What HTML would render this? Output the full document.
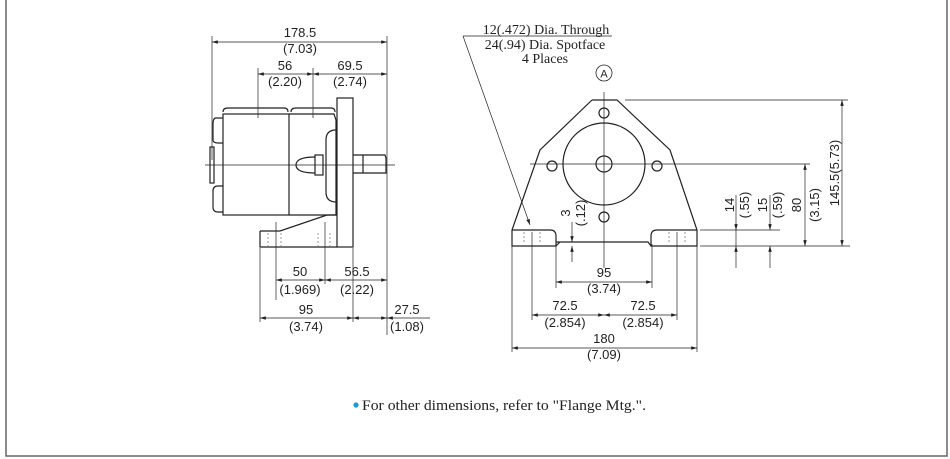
<!DOCTYPE html>
<html><head><meta charset="utf-8"><style>
body{margin:0;background:#fff;}
svg{display:block;}
.s{font-family:"Liberation Sans",sans-serif;font-size:13px;fill:#222;text-anchor:middle;}
.r{font-family:"Liberation Serif",serif;font-size:14px;fill:#222;text-anchor:middle;}
</style></head><body>
<svg width="950" height="459" viewBox="0 0 950 459" xmlns="http://www.w3.org/2000/svg">
<defs>
<marker id="a" viewBox="0 0 10 6" refX="10" refY="3" markerWidth="9" markerHeight="5" orient="auto-start-reverse"><path d="M0,0L10,3L0,6z" fill="#222"/></marker>
</defs>
<rect x="6" y="-2" width="941" height="458" fill="none" stroke="#666" stroke-width="1.5"/>
<g stroke="#222" fill="none" stroke-width="0.7">
<line x1="212" y1="36" x2="212" y2="160"/>
<line x1="387" y1="36" x2="387" y2="335"/>
<line x1="258" y1="68" x2="258" y2="118"/>
<line x1="313" y1="68" x2="313" y2="118"/>
<line x1="276" y1="222" x2="276" y2="300"/>
<line x1="325" y1="222" x2="325" y2="284"/>
<line x1="260" y1="248" x2="260" y2="322"/>
<line x1="353" y1="248" x2="353" y2="322"/>
<line x1="212" y1="42" x2="387" y2="42" marker-start="url(#a)" marker-end="url(#a)"/>
<line x1="258" y1="74" x2="313" y2="74" marker-start="url(#a)" marker-end="url(#a)"/>
<line x1="313" y1="74" x2="387" y2="74" marker-start="url(#a)" marker-end="url(#a)"/>
<line x1="276" y1="280" x2="325" y2="280" marker-start="url(#a)" marker-end="url(#a)"/>
<line x1="325" y1="280" x2="387" y2="280" marker-start="url(#a)" marker-end="url(#a)"/>
<line x1="260" y1="318" x2="353" y2="318" marker-start="url(#a)" marker-end="url(#a)"/>
<line x1="353" y1="318" x2="387" y2="318" marker-start="url(#a)" marker-end="url(#a)"/>
<line x1="430" y1="318" x2="387" y2="318" marker-end="url(#a)"/>
<line x1="205" y1="165" x2="395" y2="165"/>
</g>
<g stroke="#222" fill="none" stroke-width="1.2">
<path d="M223,112 Q223,108 228,108 L284,108 Q288,108 288,112 M291,112 Q291,108 296,108 L331,108 Q335,108 335,112"/>
<rect x="223" y="114" width="66" height="101"/>
<path d="M289,114 L334,114 L336,120 L336,215 L289,215"/>
<path d="M223,118 L216,118 Q213,118 213,124 L213,140 Q213,143 218,143 L223,143"/>
<path d="M223,186 L218,186 Q213,186 213,191 L213,207 Q213,212 218,212 L223,212"/>
<rect x="210" y="147" width="4" height="36"/>
<path d="M336,130 Q326,130 326,140 L326,192 Q326,202 336,202"/>
<rect x="315" y="155" width="8" height="20"/>
<path d="M315,157 Q296,157 296,165 Q296,173 315,173"/>
<rect x="337" y="98" width="16" height="149"/>
<path d="M260,231 L280,231 L327,215 L337,215 M260,231 L260,247 L337,247"/>
<path d="M353,155 L385,155 L386,158 L386,173 L353,173"/>
<line x1="363" y1="155" x2="363" y2="173"/>
</g>
<g stroke="#555" stroke-width="0.6" stroke-dasharray="2,2">
<line x1="268" y1="233" x2="268" y2="246"/><line x1="281" y1="233" x2="281" y2="246"/>
<line x1="318" y1="233" x2="318" y2="246"/><line x1="330" y1="233" x2="330" y2="246"/>
<line x1="258" y1="108" x2="258" y2="120"/><line x1="313" y1="108" x2="313" y2="120"/>
</g>
<g>
<text x="300" y="37" class="s">178.5</text><text x="300" y="53" class="s">(7.03)</text>
<text x="285" y="70" class="s">56</text><text x="285" y="86" class="s">(2.20)</text>
<text x="350" y="70" class="s">69.5</text><text x="350" y="86" class="s">(2.74)</text>
<text x="300" y="276" class="s">50</text><text x="300" y="294" class="s">(1.969)</text>
<text x="357" y="276" class="s">56.5</text><text x="357" y="294" class="s">(2.22)</text>
<text x="306" y="314" class="s">95</text><text x="306" y="331" class="s">(3.74)</text>
<text x="407" y="314" class="s">27.5</text><text x="407" y="331" class="s">(1.08)</text>
</g>
<g stroke="#222" fill="none" stroke-width="0.7">
<line x1="463" y1="36" x2="612" y2="36"/>
<line x1="463" y1="36" x2="530" y2="225" marker-end="url(#a)"/>
<line x1="604" y1="92" x2="604" y2="268"/>
<line x1="530" y1="164" x2="810" y2="164"/>
<line x1="625" y1="100" x2="848" y2="100"/>
<line x1="700" y1="246" x2="850" y2="246"/>
<line x1="700" y1="230" x2="780" y2="230"/>
<line x1="842" y1="100" x2="842" y2="246" marker-start="url(#a)" marker-end="url(#a)"/>
<line x1="805" y1="164" x2="805" y2="246" marker-start="url(#a)" marker-end="url(#a)"/>
<line x1="736" y1="195" x2="736" y2="230" marker-end="url(#a)"/>
<line x1="736" y1="268" x2="736" y2="246" marker-end="url(#a)"/>
<line x1="736" y1="230" x2="736" y2="246"/>
<line x1="770" y1="195" x2="770" y2="230" marker-end="url(#a)"/>
<line x1="770" y1="268" x2="770" y2="246" marker-end="url(#a)"/>
<line x1="570" y1="242" x2="578" y2="242"/>
<line x1="572" y1="222" x2="572" y2="242" marker-end="url(#a)"/>
<line x1="572" y1="262" x2="572" y2="246" marker-end="url(#a)"/>
<line x1="512" y1="246" x2="512" y2="352"/>
<line x1="697" y1="246" x2="697" y2="352"/>
<line x1="532" y1="232" x2="532" y2="320"/>
<line x1="677" y1="232" x2="677" y2="320"/>
<line x1="556" y1="244" x2="556" y2="288"/>
<line x1="652" y1="244" x2="652" y2="288"/>
<line x1="556" y1="282" x2="652" y2="282" marker-start="url(#a)" marker-end="url(#a)"/>
<line x1="532" y1="315" x2="604" y2="315" marker-start="url(#a)" marker-end="url(#a)"/>
<line x1="604" y1="315" x2="677" y2="315" marker-start="url(#a)" marker-end="url(#a)"/>
<line x1="512" y1="348" x2="697" y2="348" marker-start="url(#a)" marker-end="url(#a)"/>
</g>
<g stroke="#222" fill="none" stroke-width="1.2">
<path d="M592,100 L617,100 L670,150 L697,230 L697,246 L651,246 L651,236 Q651,230 657,230 L697,230"/>
<path d="M592,100 L540,150 L512,230 L512,246 L556,246 L556,236 Q556,230 550,230 L512,230"/>
<path d="M556,242 L560,242 L648,242 L651,246"/>
<path d="M556,246 L560,242"/>
<circle cx="604" cy="164" r="41"/>
<circle cx="604" cy="164" r="8"/>
<circle cx="604" cy="113" r="5"/>
<circle cx="552" cy="166" r="5"/>
<circle cx="657" cy="166" r="5"/>
<circle cx="604" cy="217" r="5"/>
<circle cx="604" cy="73" r="8" stroke-width="0.8"/>
</g>
<g stroke="#555" stroke-width="0.6" stroke-dasharray="2,2">
<line x1="524" y1="232" x2="524" y2="244"/><line x1="540" y1="232" x2="540" y2="244"/>
<line x1="669" y1="232" x2="669" y2="244"/><line x1="685" y1="232" x2="685" y2="244"/>
</g>
<text x="604" y="77.5" class="s" style="font-size:11px">A</text>
<text x="546" y="34" class="r">12(.472) Dia. Through</text>
<text x="545" y="49" class="r">24(.94) Dia. Spotface</text>
<text x="545" y="63" class="r">4 Places</text>
<g>
<text x="604" y="277" class="s">95</text><text x="604" y="293" class="s">(3.74)</text>
<text x="565" y="310" class="s">72.5</text><text x="565" y="327" class="s">(2.854)</text>
<text x="643" y="310" class="s">72.5</text><text x="643" y="327" class="s">(2.854)</text>
<text x="604" y="343" class="s">180</text><text x="604" y="359" class="s">(7.09)</text>
</g>
<g>
<text transform="translate(570,213) rotate(-90)" class="s">3</text>
<text transform="translate(585,213) rotate(-90)" class="s">(.12)</text>
<text transform="translate(734,205) rotate(-90)" class="s">14</text>
<text transform="translate(749,205) rotate(-90)" class="s">(.55)</text>
<text transform="translate(767,205) rotate(-90)" class="s">15</text>
<text transform="translate(782,205) rotate(-90)" class="s">(.59)</text>
<text transform="translate(801,205) rotate(-90)" class="s">80</text>
<text transform="translate(819,205) rotate(-90)" class="s">(3.15)</text>
<text transform="translate(839,173) rotate(-90)" class="s">145.5(5.73)</text>
</g>
<circle cx="356" cy="405" r="2.6" fill="#1a9ad6"/>
<text x="362" y="410" font-family="Liberation Serif,serif" font-size="14.5" fill="#222" textLength="284" lengthAdjust="spacingAndGlyphs">For other dimensions, refer to "Flange Mtg.".</text>
</svg>
</body></html>
